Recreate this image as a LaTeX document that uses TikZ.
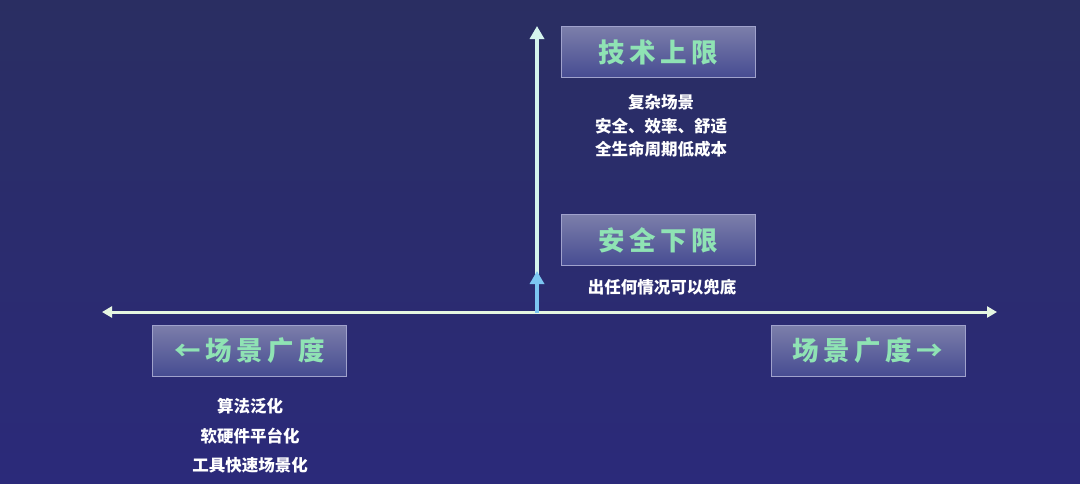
\documentclass[tikz,border=0pt]{standalone}
\usepackage{fontspec}
\newfontfamily\cjk{Noto Sans CJK SC}
\usetikzlibrary{arrows.meta}
\definecolor{bgtop}{HTML}{2A2E62}
\definecolor{bgbot}{HTML}{2B2A7A}
\definecolor{boxtop}{HTML}{7C7EAA}
\definecolor{boxbot}{HTML}{464C92}
\definecolor{boxline}{HTML}{A0A2CC}
\definecolor{tgreen}{HTML}{8FE3B4}
\definecolor{axis}{HTML}{E6F6E2}
\definecolor{vaxis}{HTML}{D6F5EE}
\definecolor{lblue}{HTML}{7CC6F2}
\begin{document}
\begin{tikzpicture}[x=1pt,y=-1pt,
  box/.style={draw=boxline,line width=1pt,top color=boxtop,bottom color=boxbot,minimum width=194pt,minimum height=51pt,inner sep=0pt,font=\cjk\bfseries\fontsize{26.5}{26.5}\selectfont,text=tgreen},
  desc/.style={font=\cjk\bfseries\fontsize{16.5}{23.5}\selectfont,text=white,align=center}]
\useasboundingbox (0,0) rectangle (1080,483);
\shade[top color=bgtop,bottom color=bgbot] (0,0) rectangle (1080,483);
\coordinate (L) at (102,312); \coordinate (R) at (997,312);
\coordinate (O) at (537,313); \coordinate (T) at (537,26); \coordinate (M) at (537,271);
\draw[axis,line width=3pt,{Triangle[length=10pt,width=11pt]}-{Triangle[length=10pt,width=11pt]}] (L) -- (R);
\draw[vaxis,line width=4pt,-{Triangle[length=13pt,width=14pt]}] (O) -- (T);
\draw[lblue,line width=4pt,-{Triangle[length=13pt,width=14pt]}] (O) -- (M);
\node[box] (tech) at (658,52) {技\,术\,上\,限};
\node[box] (safe) at (658,240) {安\,全\,下\,限};
\node[box] (left) at (249.5,350.5) {←\,场\,景\,广\,度};
\node[box] (right) at (868,351) {场\,景\,广\,度\,→};
\node[desc] (td) at (661,126) {复杂场景\\安全、效率、舒适\\全生命周期低成本};
\node[desc] (sd) at (662,287) {出任何情况可以兜底};
\node[desc,font=\cjk\bfseries\fontsize{16.5}{29.5}\selectfont] (ld) at (250,436) {算法泛化\\软硬件平台化\\工具快速场景化};
\end{tikzpicture}
\end{document}
